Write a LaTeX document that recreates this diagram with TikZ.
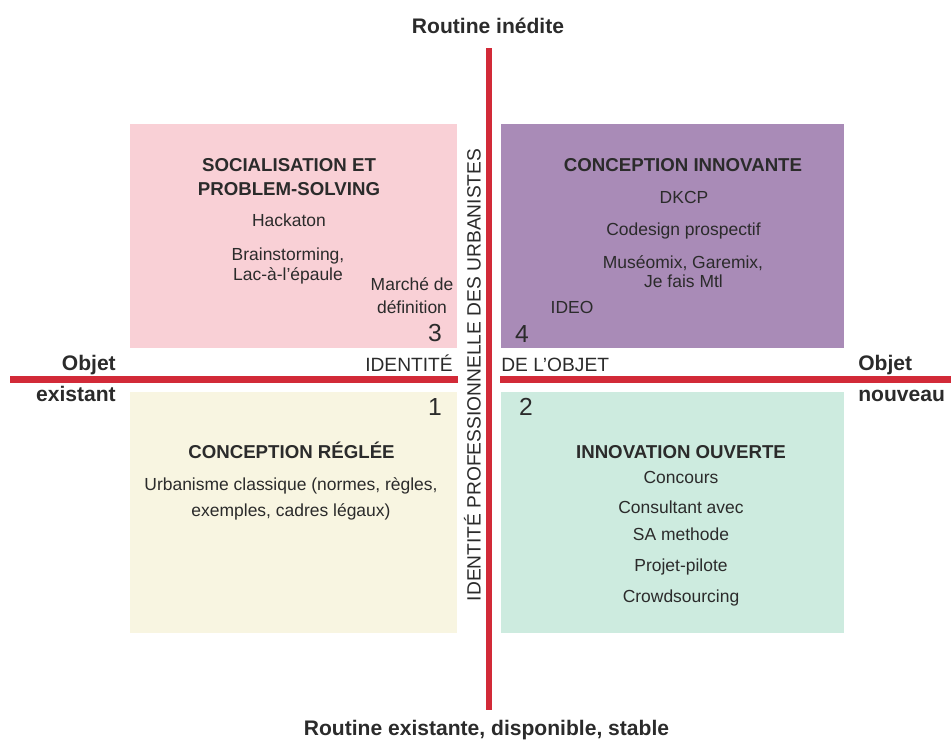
\documentclass[tikz,border=0pt]{standalone}
\usepackage{fontspec}
\setmainfont{Liberation Sans}
\definecolor{pinkbox}{HTML}{F9D0D6}
\definecolor{purplebox}{HTML}{A98BB7}
\definecolor{yellowbox}{HTML}{F8F5E1}
\definecolor{greenbox}{HTML}{CDEBDF}
\definecolor{axisred}{HTML}{D22A38}
\definecolor{ink}{HTML}{2B2B2B}
\begin{document}
\begin{tikzpicture}[x=0.75pt,y=-0.75pt,
  box/.style={draw=none,inner sep=0,anchor=north west},
  txt/.style={anchor=base,inner sep=0,text=ink,font=\fontsize{13.1}{15}\selectfont},
  ttl/.style={anchor=base,inner sep=0,text=ink,font=\fontsize{14}{16}\selectfont\bfseries},
  axl/.style={inner sep=0,text=ink,font=\fontsize{15.8}{18}\selectfont\bfseries},
  idl/.style={inner sep=0,text=ink,font=\fontsize{14.4}{16}\selectfont},
  num/.style={anchor=base,inner sep=0,text=ink,font=\fontsize{18.5}{20}\selectfont},
  axis/.style={draw=axisred,line width=4.8pt}]
\useasboundingbox (0,0) rectangle (951,747);
% quadrant boxes
\node[box,fill=pinkbox,minimum width=245.25pt,minimum height=168pt] (q3) at (130,124) {};
\node[box,fill=purplebox,minimum width=257.25pt,minimum height=168pt] (q4) at (501,124) {};
\node[box,fill=yellowbox,minimum width=245.25pt,minimum height=180.75pt] (q1) at (130,392) {};
\node[box,fill=greenbox,minimum width=257.25pt,minimum height=180.75pt] (q2) at (501,392) {};
% axes
\coordinate (vtop) at (489,48);
\coordinate (vbot) at (489,710);
\coordinate (hl1) at (10,379.5);
\coordinate (hl2) at (458,379.5);
\coordinate (hr1) at (500,379.5);
\coordinate (hr2) at (951,379.5);
\draw[axis] (vtop) -- (vbot);
\draw[axis] (hl1) -- (hl2);
\draw[axis] (hr1) -- (hr2);
% axis labels
\node[axl,anchor=base] (top) at (488,33) {Routine inédite};
\node[axl,anchor=base] (bot) at (486.5,735) {Routine existante, disponible, stable};
\node[axl,anchor=base east] (lo1) at (116,370) {Objet};
\node[axl,anchor=base east] (lo2) at (116,401) {existant};
\node[axl,anchor=base west] (ro1) at (858,370) {Objet};
\node[axl,anchor=base west] (ro2) at (858,401) {nouveau};
\node[idl,anchor=base east] (idh1) at (453,371) {IDENTITÉ};
\node[idl,anchor=base west] (idh2) at (501,371) {DE L'OBJET};
\node[idl,anchor=base,rotate=90] (idv) at (480.5,375) {IDENTITÉ PROFESSIONNELLE DES URBANISTES};
% quadrant 3
\node[ttl] (t3a) at (289,171) {SOCIALISATION ET};
\node[ttl] (t3b) at (289,195) {PROBLEM-SOLVING};
\node[txt] (a3) at (289,226) {Hackaton};
\node[txt] (b3) at (288,260) {Brainstorming,};
\node[txt] (c3) at (288,280) {Lac-à-l'épaule};
\node[txt] (d3) at (412,290) {Marché de};
\node[txt] (e3) at (412,313) {définition};
\node[num] (n3) at (435,341) {3};
% quadrant 4
\node[ttl] (t4) at (683,171) {CONCEPTION INNOVANTE};
\node[txt] (a4) at (684,203) {DKCP};
\node[txt] (b4) at (683.5,235) {Codesign prospectif};
\node[txt] (c4) at (683,268) {Muséomix, Garemix,};
\node[txt] (d4) at (683.5,287) {Je fais Mtl};
\node[txt] (e4) at (572,313) {IDEO};
\node[num] (n4) at (522,342) {4};
% quadrant 1
\node[num] (n1) at (435,415) {1};
\node[ttl] (t1) at (291.5,458) {CONCEPTION RÉGLÉE};
\node[txt] (a1) at (291,490) {Urbanisme classique (normes, règles,};
\node[txt] (b1) at (291,516) {exemples, cadres légaux)};
% quadrant 2
\node[num] (n2) at (526,415) {2};
\node[ttl] (t2) at (681,458) {INNOVATION OUVERTE};
\node[txt] (a2) at (681,483) {Concours};
\node[txt] (b2) at (681,513) {Consultant avec};
\node[txt] (c2) at (681,540) {SA methode};
\node[txt] (d2) at (681,571) {Projet-pilote};
\node[txt] (e2) at (681,602) {Crowdsourcing};
\end{tikzpicture}
\end{document}
